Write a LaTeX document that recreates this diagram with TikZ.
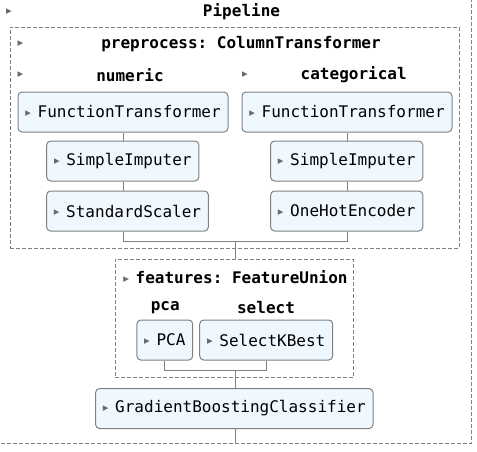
\documentclass[tikz,border=0pt]{standalone}
\usepackage{fontspec}
\setmonofont{DejaVu Sans Mono}
\newfontfamily\markfont{DejaVu Sans}
\usetikzlibrary{fit}
\definecolor{boxfill}{HTML}{F0F8FF}
\definecolor{linegray}{HTML}{808080}
\definecolor{markgray}{HTML}{696969}
\newcommand{\mk}{\raisebox{1.6pt}{\markfont\fontsize{5.5}{5.5}\selectfont\color{markgray}\symbol{"25B6}}}
\tikzset{
  est/.style={draw=linegray, fill=boxfill, rounded corners=3pt, line width=0.75pt,
    minimum height=30pt, inner xsep=5.5pt, font=\ttfamily\fontsize{12}{14}\selectfont},
  grp/.style={draw=linegray, line width=0.75pt, dash pattern=on 3pt off 1.5pt, inner sep=0pt},
  head/.style={font=\ttfamily\bfseries\fontsize{12}{14}\selectfont, inner sep=0pt},
  marker/.style={inner sep=0pt},
  link/.style={draw=linegray, line width=0.75pt}
}
\begin{document}
\begin{tikzpicture}[x=0.75pt,y=-0.75pt]
	\path[use as bounding box] (0,0) rectangle (477,451);
	\clip (0,0) rectangle (477,451);
	% dashed groups
	\node[grp, fit={(-5,-5) (471.3,443.3)}] (pipe) {};
	\node[grp, fit={(10.3,27.3) (459.3,248.3)}] (pre) {};
	\node[grp, fit={(115,259.3) (353.3,377.7)}] (feat) {};
	% titles
	\node[marker] (pipe-mk) at (9,12.5) {\mk};
	\node[head] (pipe-title) at (241.5,12) {Pipeline};
	\node[marker] (pre-mk) at (20.5,44.5) {\mk};
	\node[head] (pre-title) at (241,44) {preprocess: ColumnTransformer};
	\node[marker] (num-mk) at (20.5,75.5) {\mk};
	\node[head] (num-title) at (130,75) {numeric};
	\node[marker] (cat-mk) at (245,75.5) {\mk};
	\node[head] (cat-title) at (353.7,75) {categorical};
	% numeric column
	\node[est] (num-ft) at (123,112) {\mk\hspace{5pt}FunctionTransformer};
	\node[est] (num-si) at (122.8,161) {\mk\hspace{5pt}SimpleImputer};
	\node[est] (num-ss) at (127.5,211) {\mk\hspace{5pt}StandardScaler};
	% categorical column
	\node[est] (cat-ft) at (347,112) {\mk\hspace{5pt}FunctionTransformer};
	\node[est] (cat-si) at (346.7,161) {\mk\hspace{5pt}SimpleImputer};
	\node[est] (cat-ohe) at (346.7,211) {\mk\hspace{5pt}OneHotEncoder};
	\coordinate (pre-join) at (235.3,241);
	\draw[link] (num-ft) -- (num-ft |- num-si.north);
	\draw[link] (num-ft |- num-si.south) -- (num-ft |- num-ss.north);
	\draw[link] (cat-ft) -- (cat-ft |- cat-si.north);
	\draw[link] (cat-ft |- cat-si.south) -- (cat-ft |- cat-ohe.north);
	\draw[link] (num-ft |- num-ss.south) |- (pre-join) -| (cat-ft |- cat-ohe.south);
	\draw[link] (pre-join) -- (pre-join |- feat.north);
	% feature union
	\node[head] (feat-title) at (235.5,277) {\mk\hspace{5pt}features: FeatureUnion};
	\node[head] (pca-title) at (165.3,308) {pca};
	\node[head] (skb-title) at (266,308) {select};
	\node[est] (pca) at (164.8,340) {\mk\hspace{5pt}PCA};
	\node[est] (skb) at (266.2,340) {\mk\hspace{5pt}SelectKBest};
	\coordinate (feat-join) at (235.3,370);
	\draw[link] (pca) |- (feat-join) -| (skb);
	% classifier
	\node[est] (gbc) at (234.3,408.5) {\mk\hspace{5pt}GradientBoostingClassifier};
	\draw[link] (feat-join) -- (feat-join |- gbc.north);
	\draw[link] (feat-join |- gbc.south) -- (feat-join |- pipe.south);
\end{tikzpicture}
\end{document}
